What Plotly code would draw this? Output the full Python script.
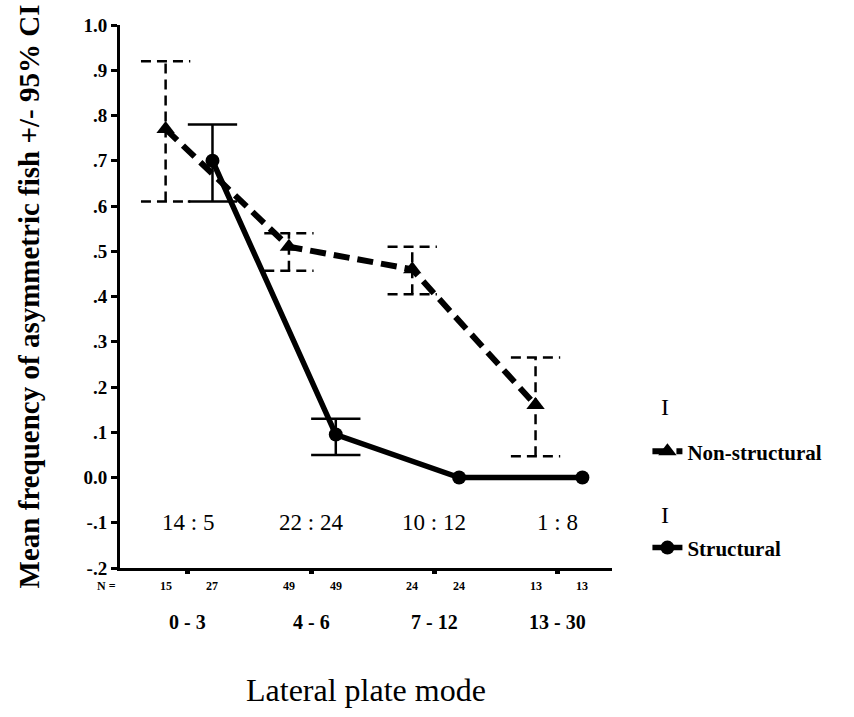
import plotly.graph_objects as go

# ---------------- data ----------------
categories = ["0 - 3", "4 - 6", "7 - 12", "13 - 30"]
cat_pos = [1, 2, 3, 4]
ratio_labels = ["14 : 5", "22 : 24", "10 : 12", "1 : 8"]
n_nonstruct = [15, 49, 24, 13]
n_struct = [27, 49, 24, 13]

ns_mean = [0.77, 0.51, 0.46, 0.16]
ns_lo = [0.61, 0.457, 0.405, 0.047]
ns_hi = [0.92, 0.54, 0.51, 0.265]

st_mean = [0.70, 0.095, 0.0, 0.0]
st_lo = [0.61, 0.05, 0.0, 0.0]
st_hi = [0.78, 0.13, 0.0, 0.0]

y_tickvals = [1.0, 0.9, 0.8, 0.7, 0.6, 0.5, 0.4, 0.3, 0.2, 0.1, 0.0, -0.1, -0.2]
y_ticktext = ["1.0", ".9", ".8", ".7", ".6", ".5", ".4", ".3", ".2", ".1", "0.0", "-.1", "-.2"]

# ---------------- style ----------------
SERIF = "Liberation Serif"
NS_OFF = -0.18
ST_OFF = 0.2
CAP = 0.2

ns_x = [c + NS_OFF for c in cat_pos]
st_x = [c + ST_OFF for c in cat_pos]


def err_path(xs, lo, hi, cap):
    px, py = [], []
    for x, l, h in zip(xs, lo, hi):
        if h - l <= 0:
            continue
        px += [x, x, None, x - cap, x + cap, None, x - cap, x + cap, None]
        py += [l, h, None, h, h, None, l, l, None]
    return px, py


fig = go.Figure()

ex, ey = err_path(ns_x, ns_lo, ns_hi, CAP)
fig.add_trace(go.Scatter(x=ex, y=ey, mode="lines", showlegend=False, hoverinfo="skip",
                         line=dict(color="black", width=2.5, dash="10px,6px")))
ex, ey = err_path(st_x, st_lo, st_hi, CAP)
fig.add_trace(go.Scatter(x=ex, y=ey, mode="lines", showlegend=False, hoverinfo="skip",
                         line=dict(color="black", width=2.5)))

fig.add_trace(go.Scatter(x=ns_x, y=ns_mean, mode="lines+markers", name="Non-structural",
                         line=dict(color="black", width=6, dash="16px,8px"),
                         marker=dict(symbol="triangle-up", size=16, color="black"),
                         legendgroup="a"))
fig.add_trace(go.Scatter(x=st_x, y=st_mean, mode="lines+markers", name="Structural",
                         line=dict(color="black", width=5.5),
                         marker=dict(symbol="circle", size=14, color="black"),
                         legendgroup="b"))

BOLD = "bold"
ann = []
for c, r in zip(cat_pos, ratio_labels):
    ann.append(dict(x=c, y=-0.1, xref="x", yref="y", text=r, showarrow=False,
                    font=dict(family=SERIF, size=23, color="black")))
for c, lab in zip(cat_pos, categories):
    ann.append(dict(x=c, y=0, xref="x", yref="paper", yshift=-54, yanchor="middle",
                    text=lab, showarrow=False,
                    font=dict(family=SERIF, size=20, color="black", weight=BOLD)))
for x, n in zip(ns_x, n_nonstruct):
    ann.append(dict(x=x, y=0, xref="x", yref="paper", yshift=-18, yanchor="middle",
                    text=str(n), showarrow=False,
                    font=dict(family=SERIF, size=12, color="black", weight=BOLD)))
for x, n in zip(st_x, n_struct):
    ann.append(dict(x=x, y=0, xref="x", yref="paper", yshift=-18, yanchor="middle",
                    text=str(n), showarrow=False,
                    font=dict(family=SERIF, size=12, color="black", weight=BOLD)))
ann.append(dict(x=0, y=0, xref="paper", yref="paper", xshift=-25, yshift=-18,
                yanchor="middle", text="N =",
                showarrow=False, font=dict(family=SERIF, size=12, color="black", weight=BOLD)))
# legend error-bar glyphs
ann.append(dict(x=1.12, y=0, xref="paper", yref="paper", yshift=161, yanchor="middle",
                text="I", showarrow=False, font=dict(family=SERIF, size=24, color="black")))
ann.append(dict(x=1.12, y=0, xref="paper", yref="paper", yshift=53, yanchor="middle",
                text="I", showarrow=False, font=dict(family=SERIF, size=24, color="black")))
ann.append(dict(x=0.5, y=0, xref="paper", yref="paper", yshift=-122, yanchor="middle",
                text="Lateral plate mode", showarrow=False,
                font=dict(family=SERIF, size=32, color="black")))

fig.update_layout(
    width=854, height=717,
    margin=dict(l=120, r=242, t=25, b=149),
    paper_bgcolor="white", plot_bgcolor="white",
    font=dict(family=SERIF, color="black"),
    annotations=ann,
    showlegend=True,
    legend=dict(x=1.072, y=0.252, xanchor="left", yanchor="top",
                font=dict(family=SERIF, size=21, color="black", weight=BOLD),
                tracegroupgap=66, itemwidth=30, bgcolor="rgba(0,0,0,0)"),
    xaxis=dict(range=[0.45, 4.44], tickvals=cat_pos, ticktext=["", "", "", ""],
               showgrid=False, zeroline=False, showline=True, linecolor="black", linewidth=3,
               ticks="outside", ticklen=3, tickwidth=5, tickcolor="black"),
    yaxis=dict(range=[-0.2, 1.0], tickvals=y_tickvals, ticktext=y_ticktext,
               showgrid=False, zeroline=False, showline=True, linecolor="black", linewidth=3,
               ticks="outside", ticklen=6, tickwidth=3, tickcolor="black",
               tickfont=dict(family=SERIF, size=19, color="black", weight=BOLD),
               title=dict(text="Mean frequency of asymmetric fish +/- 95% CI", standoff=36,
                          font=dict(family=SERIF, size=29, color="black", weight=BOLD))),
)

fig.write_html("out.html")
